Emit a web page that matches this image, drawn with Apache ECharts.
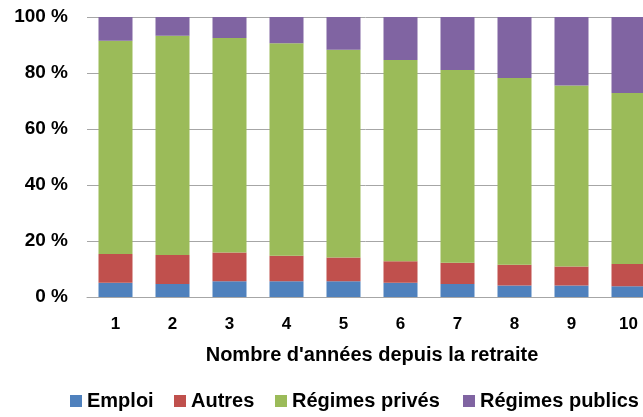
<!DOCTYPE html>
<html>
<head>
<meta charset="utf-8">
<script src="https://cdn.jsdelivr.net/npm/echarts@6/dist/echarts.min.js"></script>
<style>
  html, body { margin: 0; padding: 0; background: #fff; }
  #chart { width: 643px; height: 417px; }
</style>
</head>
<body>
<div id="chart"></div>
<script>
// catégories : années depuis la retraite
const years = ['1', '2', '3', '4', '5', '6', '7', '8', '9', '10']
const yTicks = [0, 20, 40, 60, 80, 100]

// parts (%) par source de revenu
const emploi = [5.1, 4.6, 5.6, 5.6, 5.6, 5.1, 4.6, 4.1, 4.1, 3.8]
const autres = [10.3, 10.4, 10.3, 9.1, 8.5, 7.7, 7.6, 7.4, 6.8, 8.0]
const regimesPrives = [76.1, 78.3, 76.6, 75.9, 74.2, 71.8, 68.9, 66.7, 64.6, 61.1]
const regimesPublics = [8.5, 6.7, 7.5, 9.4, 11.7, 15.4, 18.9, 21.8, 24.5, 27.1]

const seriesNames = ['Emploi', 'Autres', 'Régimes privés', 'Régimes publics']
const legendLeft = [70, 174, 275, 463]

const font = 'Arial, "Liberation Sans", sans-serif'

const chart = echarts.init(document.getElementById('chart'))

function bar(name, data, color) {
  return {
    name: name,
    type: 'bar',
    stack: 'total',
    data: data,
    barWidth: 34,
    itemStyle: { color: color },
    emphasis: { disabled: true }
  }
}

// une légende par entrée, pour caler les positions comme dans Excel
const legends = seriesNames.map((name, i) => ({
  left: legendLeft[i],
  top: 386,
  padding: [5, 0, 5, 0],
  itemWidth: 12,
  itemHeight: 12,
  icon: 'rect',
  textStyle: {
    fontFamily: font,
    fontWeight: 'bold',
    fontSize: 20,
    color: '#000'
  },
  data: [name]
}))

chart.setOption({
  animation: false,
  grid: {
    left: 87,
    right: -14,
    top: 17,
    bottom: 120,
    outerBoundsMode: 'none'
  },
  legend: legends,
  xAxis: {
    type: 'category',
    data: years,
    name: "Nombre d'années depuis la retraite",
    nameLocation: 'middle',
    nameGap: 48,
    nameTextStyle: {
      fontFamily: font,
      fontWeight: 'bold',
      fontSize: 20,
      color: '#000'
    },
    axisLine: { lineStyle: { color: '#a6a6a6', width: 1 } },
    axisTick: { show: false },
    axisLabel: {
      margin: 19,
      fontFamily: font,
      fontWeight: 'bold',
      fontSize: 17,
      color: '#000'
    }
  },
  yAxis: {
    type: 'value',
    min: yTicks[0],
    max: yTicks[yTicks.length - 1],
    interval: 20,
    axisLine: { show: false },
    axisTick: { show: false },
    splitLine: { lineStyle: { color: '#a6a6a6', width: 1 } },
    axisLabel: {
      margin: 19,
      formatter: '{value} %',
      fontFamily: font,
      fontWeight: 'bold',
      fontSize: 19,
      color: '#000'
    }
  },
  series: [
    bar(seriesNames[0], emploi, '#4f81bd'),
    bar(seriesNames[1], autres, '#c0504d'),
    bar(seriesNames[2], regimesPrives, '#9bbb59'),
    bar(seriesNames[3], regimesPublics, '#8064a2')
  ]
})
</script>
</body>
</html>
